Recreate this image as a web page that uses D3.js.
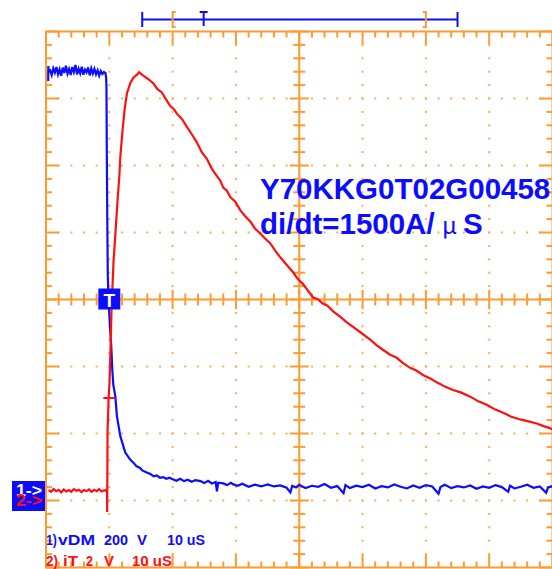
<!DOCTYPE html>
<html>
<head>
<meta charset="utf-8">
<script src="https://cdn.jsdelivr.net/npm/d3@7"></script>
<style>
  body { margin: 0; background: #fff; }
  svg { display: block; }
  text { font-family: "Liberation Sans", Arial, sans-serif; font-weight: bold; }
</style>
</head>
<body>
<div id="scope"></div>
<script>
// scope settings
var timePerDiv = 10;        // us / div
var ch1VoltsPerDiv = 200;   // V / div
var ch2VoltsPerDiv = 2;     // V / div
var ch1Ground = -2.84;      // div from screen centre
var ch2Ground = -2.87;
var ch2TriggerLevel = 2.8;  // V

// channel 1: vDM (V) against time (us)
var ch1Time = [-9.65, -9.63, -9.6, -9.35, -9.1, -8.85, -8.6, -8.35, -8.1, -7.85, -7.6, -7.35, -7.1, -6.85, -6.6, -6.35, -6.1,
  -5.85, -5.6, -5.35, -5.1, -4.85, -4.6, -4.35, -4.1, -3.85, -3.6, -3.35, -3.1, -2.85, -2.6, -2.35, -2.1, -1.85, -1.6,
  -1.35, -1.1, -0.85, -0.6, -0.5, -0.45, -0.4, -0.32, -0.24, -0.1, 0.1, 0.3, 0.47, 0.63, 0.95, 1.2, 1.74, 2.52, 3.3,
  3.8, 4.3, 4.8, 5.2, 5.5, 6.0, 6.5, 7.0, 7.5, 8.0, 8.5, 9.0, 9.5, 10.1, 10.6, 11.2, 11.8, 12.4, 13.0, 13.6, 14.4, 15.0,
  15.6, 16.2, 16.8, 17.0, 17.2, 18, 18.6, 19.2, 19.6, 20.3, 21, 22, 23, 24, 25, 26, 27, 28, 28.6, 28.9, 29.5, 30, 31,
  32, 33, 34, 35, 36, 37, 37.3, 38, 39, 40, 41, 42, 43, 44, 45, 46, 47, 48, 49, 50, 51, 52, 52.3, 53, 54, 55, 56, 57,
  58, 59, 60, 61, 62, 63, 63.3, 64, 65, 66, 67, 68, 69, 69.3, 70];
var ch1Volts = [1220, 1265, 1248, 1252, 1238, 1258, 1245, 1262, 1240, 1255, 1236, 1260, 1244, 1266, 1242, 1256, 1238,
  1262, 1247, 1268, 1240, 1257, 1243, 1263, 1239, 1254, 1246, 1261, 1237, 1258, 1242, 1256, 1240, 1252, 1236,
  1250, 1241, 1247, 1244, 1230, 1201, 1022, 810, 640, 558, 490, 431, 359, 314, 279, 220, 160, 111, 90,
  81, 70, 66, 58, 55, 51, 47, 40, 43, 36, 38, 33, 36, 31, 27, 33, 26, 30, 24, 29, 26, 20,
  27, 19, 23, -5, 21, 19, 14, 21, 16, 12, 18, 9, 15, 10, 16, 10, 13, 6, -8, 12, 7, 15, 5,
  12, 9, 17, 6, 11, -10, 14, 5, 12, 8, 15, 4, 11, 7, 16, 9, 4, 13, 6, 14, 10, -12, 8, 15, 5, 11, 7, 13,
  3, 10, 6, 14, 8, -6, 12, 4, 9, 15, 6, 10, -9, 7, 11];

// channel 2: iT (V) against time (us)
var ch2Time = [-9.6, -9.2, -8.8, -8.4, -8.0, -7.6, -7.2, -6.8, -6.4, -6.0, -5.6, -5.2, -4.8, -4.4, -4.0, -3.6, -3.2,
  -2.8, -2.4, -2.0, -1.6, -1.2, -0.8, -0.5, -0.36, -0.34, -0.32, -0.28, -0.11, 0.05, 0.27, 0.39, 0.55, 0.68, 0.95,
  1.31, 1.58, 1.74, 2.1, 2.41, 2.79, 3.31, 3.8, 4.37, 4.7, 5.16, 5.7, 6.3, 7.0, 7.6, 8.3, 9.0, 9.6, 10.2, 10.7, 11.5,
  12.3, 13.0, 13.8, 14.6, 15.4, 16.2, 17.0, 17.5, 18.0, 18.6, 19.1, 19.9, 20.7, 21.5, 22.3, 23.0, 23.8, 24.6, 25.4,
  26.2, 27.0, 28.0, 29.0, 29.8, 30.6, 31.4, 32.2, 33.0, 33.7, 34.4, 35.4, 36.5, 37.5, 38.5, 39.8, 41.2, 42.2, 43.2,
  44.3, 45.4, 46.4, 47.5, 48.5, 49.6, 50.7, 51.8, 53.0, 54.3, 55.6, 57.0, 58.3, 59.6, 60.9, 62.2, 63.5, 64.9, 66.2,
  67.5, 68.6, 69.6, 70.0];
var ch2Volts = [0.05, 0.0, 0.08, 0.02, 0.06, -0.02, 0.07, 0.01, 0.05, 0.0, 0.08, 0.03, 0.06, -0.01, 0.05, 0.02, 0.07,
  0.0, 0.06, 0.02, 0.08, 0.01, 0.05, 0.03, 0.1, -0.6, 0.05, 1.79, 2.81, 3.34, 4.84, 5.73, 6.33, 6.93, 7.67,
  8.72, 9.41, 10.01, 10.81, 11.4, 11.9, 12.2, 12.36, 12.45, 12.52, 12.45, 12.38, 12.3, 12.18, 12.02, 11.92, 11.7, 11.52, 11.42, 11.28, 11.12,
  10.88, 10.68, 10.44, 10.14, 9.94, 9.64, 9.42, 9.3, 9.08, 8.98, 8.8, 8.66, 8.4, 8.22, 8.06, 7.86, 7.72, 7.56, 7.42,
  7.2, 7.0, 6.78, 6.56, 6.34, 6.2, 6.0, 5.8, 5.74, 5.62, 5.56, 5.38, 5.22, 5.06, 4.92, 4.74, 4.54, 4.38, 4.24,
  4.1, 4.0, 3.84, 3.7, 3.62, 3.48, 3.38, 3.26, 3.14, 3.04, 2.96, 2.84, 2.7, 2.6, 2.46, 2.36, 2.24, 2.16, 2.1,
  2.04, 1.96, 1.9, 1.86];

// texts
var titleLine1 = "Y70KKG0T02G00458";
var titleLine2 = ["di/dt=1500A/", "\u03bc", "S"];
var ch1Label = ["1)", "vDM", "200", "V", "10 uS"];
var ch2Label = ["2)", "iT", "2", "V", "10 uS"];

// zoom window bar at the top (us)
var barExtent = [5.2, 55];
var barBrackets = [10, 50];
var barTrigger = 14.9;

var orange = "#ff9a33", dotColor = "#ffab55", blue = "#0c0cff", red = "#ff1010";

var W = 552, H = 569;
var svg = d3.select("#scope").append("svg").attr("width", W).attr("height", H);

// scales
var x = d3.scaleLinear().domain([-1 * timePerDiv, 7 * timePerDiv]).range([46, 552.5]);
var yDiv = d3.scaleLinear().domain([-4, 4]).range([567.5, 31.5]);
var y1 = d3.scaleLinear().domain([0, ch1VoltsPerDiv]).range([yDiv(ch1Ground), yDiv(ch1Ground + 1)]);
var y2 = d3.scaleLinear().domain([0, ch2VoltsPerDiv]).range([yDiv(ch2Ground), yDiv(ch2Ground + 1)]);

var x0 = x.range()[0], x1 = x.range()[1], yTop = yDiv(4), yBot = yDiv(-4);
var xc = x(3 * timePerDiv), yc = yDiv(0);

var grid = svg.append("g");

// dotted grid lines
var majorT = d3.range(0, 7).map(function(i) { return i * timePerDiv; }).filter(function(t) { return t !== 3 * timePerDiv; });
var minorT = d3.range(-10, 70.01, 2);
var majorD = [-3, -2, -1, 1, 2, 3];
var minorD = d3.range(-4, 4.01, 0.2);

majorT.forEach(function(t) {
  grid.selectAll(null).data(minorD.slice(1, -1)).enter().append("rect")
    .attr("x", x(t) - 1).attr("y", function(d) { return yDiv(d) - 1; })
    .attr("width", 2).attr("height", 2).attr("fill", dotColor);
});
majorD.forEach(function(dv) {
  grid.selectAll(null).data(minorT.slice(1, -1)).enter().append("rect")
    .attr("x", function(d) { return x(d) - 1; }).attr("y", yDiv(dv) - 1)
    .attr("width", 2).attr("height", 2).attr("fill", dotColor);
});

// border
grid.append("rect").attr("x", x0).attr("y", yTop).attr("width", x1 - x0).attr("height", yBot - yTop)
  .attr("fill", "none").attr("stroke", orange).attr("stroke-width", 2);

// centre axes
grid.append("line").attr("x1", x0).attr("x2", x1).attr("y1", yc).attr("y2", yc).attr("stroke", orange).attr("stroke-width", 2);
grid.append("line").attr("x1", xc).attr("x2", xc).attr("y1", yTop).attr("y2", yBot).attr("stroke", orange).attr("stroke-width", 2);

function isMajorT(t) { return Math.abs(t / timePerDiv - Math.round(t / timePerDiv)) < 1e-6; }
function isMajorD(d) { return Math.abs(d - Math.round(d)) < 1e-6; }

// ticks on the top / bottom edges and the centre horizontal axis
minorT.forEach(function(t) {
  var len = isMajorT(t) ? 13 : 6;
  grid.append("line").attr("x1", x(t)).attr("x2", x(t)).attr("y1", yTop).attr("y2", yTop + len)
    .attr("stroke", orange).attr("stroke-width", 2);
  grid.append("line").attr("x1", x(t)).attr("x2", x(t)).attr("y1", yBot).attr("y2", yBot - len)
    .attr("stroke", orange).attr("stroke-width", 2);
  var c = isMajorT(t) ? 9.5 : 6;
  grid.append("line").attr("x1", x(t)).attr("x2", x(t)).attr("y1", yc - c).attr("y2", yc + c)
    .attr("stroke", orange).attr("stroke-width", 2);
});
// ticks on the left / right edges and the centre vertical axis
minorD.forEach(function(d) {
  var len = isMajorD(d) ? 13 : 6;
  grid.append("line").attr("x1", x0).attr("x2", x0 + len).attr("y1", yDiv(d)).attr("y2", yDiv(d))
    .attr("stroke", orange).attr("stroke-width", 2);
  grid.append("line").attr("x1", x1).attr("x2", x1 - len).attr("y1", yDiv(d)).attr("y2", yDiv(d))
    .attr("stroke", orange).attr("stroke-width", 2);
  var c = isMajorD(d) ? 9.5 : 6;
  grid.append("line").attr("x1", xc - c).attr("x2", xc + c).attr("y1", yDiv(d)).attr("y2", yDiv(d))
    .attr("stroke", orange).attr("stroke-width", 2);
});

// traces
var ch1Data = ch1Time.map(function(t, i) { return [t, ch1Volts[i]]; });
var ch2Data = ch2Time.map(function(t, i) { return [t, ch2Volts[i]]; });

var line1 = d3.line().x(function(d) { return x(d[0]); }).y(function(d) { return y1(d[1]); });
var line2 = d3.line().x(function(d) { return x(d[0]); }).y(function(d) { return y2(d[1]); });

svg.append("path").datum(ch1Data).attr("d", line1)
  .attr("fill", "none").attr("stroke", blue).attr("stroke-width", 2.2);
svg.append("path").datum(ch2Data).attr("d", line2)
  .attr("fill", "none").attr("stroke", red).attr("stroke-width", 2.2);

// ch2 trigger level cross
svg.append("line").attr("x1", x(0) - 6).attr("x2", x(0) + 6)
  .attr("y1", y2(ch2TriggerLevel)).attr("y2", y2(ch2TriggerLevel))
  .attr("stroke", red).attr("stroke-width", 2);

// trigger marker on the centre line
svg.append("rect").attr("x", x(0) - 11).attr("y", yc - 11).attr("width", 22).attr("height", 21).attr("fill", blue);
svg.append("text").attr("x", x(0)).attr("y", yc + 7).attr("text-anchor", "middle")
  .attr("fill", "#fff").attr("font-size", 19).text("T");

// zoom bar at top
var barY = 19.5;
var bar = svg.append("g");
bar.append("line").attr("x1", x(barExtent[0])).attr("x2", x(barExtent[1])).attr("y1", barY).attr("y2", barY)
  .attr("stroke", blue).attr("stroke-width", 2);
barExtent.forEach(function(t) {
  bar.append("line").attr("x1", x(t)).attr("x2", x(t)).attr("y1", 12).attr("y2", 27).attr("stroke", blue).attr("stroke-width", 2);
});
bar.append("line").attr("x1", x(barTrigger)).attr("x2", x(barTrigger)).attr("y1", 12).attr("y2", 26).attr("stroke", blue).attr("stroke-width", 2);
bar.append("line").attr("x1", x(barTrigger) - 4).attr("x2", x(barTrigger) + 4).attr("y1", 12).attr("y2", 12).attr("stroke", blue).attr("stroke-width", 2);
barBrackets.forEach(function(t, i) {
  var s = i === 0 ? 1 : -1;
  bar.append("path")
    .attr("d", "M" + (x(t) + 3 * s) + ",12H" + x(t) + "V27H" + (x(t) + 3 * s))
    .attr("fill", "none").attr("stroke", orange).attr("stroke-width", 2);
});

// annotation
svg.append("text").attr("x", 260).attr("y", 199).attr("fill", blue).attr("font-size", 29.5).text(titleLine1);
var t2 = svg.append("text").attr("y", 234).attr("fill", blue).attr("font-size", 29.5);
t2.append("tspan").attr("x", 260).text(titleLine2[0]);
t2.append("tspan").attr("x", 442).style("font-family", "'Noto Sans CJK SC', sans-serif").style("font-weight", "normal")
  .attr("font-size", 24).text(titleLine2[1]);
t2.append("tspan").attr("x", 463).text(titleLine2[2]);

// channel ground markers (the two arrows overlap, as on the scope)
svg.append("rect").attr("x", 12).attr("y", 481).attr("width", 33).attr("height", 30).attr("fill", blue);
svg.append("text").attr("x", 16).attr("y", 496).attr("fill", "#fff").attr("font-size", 17)
  .attr("textLength", 26).attr("lengthAdjust", "spacingAndGlyphs").text("1->");
svg.append("text").attr("x", 16).attr("y", 506).attr("fill", red).attr("font-size", 17)
  .attr("textLength", 26).attr("lengthAdjust", "spacingAndGlyphs").text("2->");

// channel settings text: left edge and width of each word
var ch1X = [46, 58, 104, 137, 167], ch1W = [11, 37, 24, 10, 38];
var ch2X = [46, 63, 86, 104, 132], ch2W = [12, 15, 7, 10, 40];
svg.append("g").selectAll("text").data(ch1Label).enter().append("text")
  .attr("x", function(d, i) { return ch1X[i]; }).attr("y", 545)
  .attr("textLength", function(d, i) { return ch1W[i]; }).attr("lengthAdjust", "spacingAndGlyphs")
  .attr("fill", blue).attr("font-size", 14.5).text(function(d) { return d; });
svg.append("g").selectAll("text").data(ch2Label).enter().append("text")
  .attr("x", function(d, i) { return ch2X[i]; }).attr("y", 565.5)
  .attr("textLength", function(d, i) { return ch2W[i]; }).attr("lengthAdjust", "spacingAndGlyphs")
  .attr("fill", red).attr("font-size", 14.5).text(function(d) { return d; });
</script>
</body>
</html>
